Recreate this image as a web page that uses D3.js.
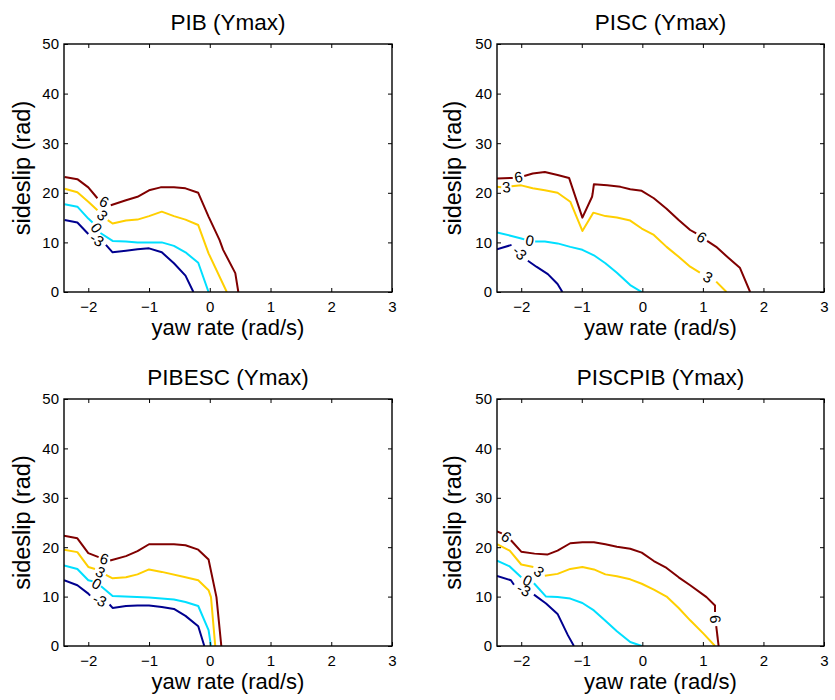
<!DOCTYPE html>
<html><head><meta charset="utf-8">
<script src="https://cdn.jsdelivr.net/npm/d3@7"></script>
<style>body{margin:0;background:#fff}text{font-family:"Liberation Sans",Arial,sans-serif;fill:#000}</style>
</head><body>
<svg id="c" width="835" height="700"></svg>
<script>
const titles = ["PIB (Ymax)", "PISC (Ymax)", "PIBESC (Ymax)", "PISCPIB (Ymax)"];
const xLabel = "yaw rate (rad/s)";
const yLabel = "sideslip (rad)";
const xTicks = [-2, -1, 0, 1, 2, 3];
const yTicks = [0, 10, 20, 30, 40, 50];
const levels = [-3, 0, 3, 6];
const levelColors = ["#00008f", "#00dfff", "#ffcf00", "#800000"];

// Each contour: list of segments (broken where the level label sits)
const pib_m3 = [
  [[-2.39,14.5],[-2.18,14.0],[-2.0,11.7]],
  [[-1.71,9.5],[-1.60,8.0],[-1.38,8.3],[-1.19,8.6],[-1.0,8.8],[-0.79,8.0],[-0.59,5.8],[-0.40,3.3],[-0.27,0]]
];
const pib_0 = [
  [[-2.39,17.7],[-2.18,17.2],[-2.0,14.8],[-1.93,14.0]],
  [[-1.80,11.9],[-1.60,10.3],[-1.38,10.2],[-1.19,10.0],[-0.79,10.0],[-0.59,9.3],[-0.40,8.0],[-0.19,5.9],[-0.02,0]]
];
const pib_3 = [
  [[-2.39,20.8],[-2.18,20.1],[-2.0,18.2],[-1.85,16.5]],
  [[-1.68,14.5],[-1.60,13.8],[-1.38,14.4],[-1.19,14.6],[-1.0,15.3],[-0.79,16.2],[-0.59,15.3],[-0.40,14.6],[-0.19,13.5],[-0.02,7.8],[0.28,0]]
];
const pib_6 = [
  [[-2.39,23.2],[-2.18,22.75],[-2.0,21.1],[-1.85,18.9]],
  [[-1.63,17.5],[-1.38,18.5],[-1.19,19.2],[-1.0,20.5],[-0.81,21.1],[-0.59,21.1],[-0.40,20.9],[-0.19,20.0],[-0.02,15.2],[0.16,10.5],[0.22,8.5],[0.42,3.8],[0.47,0]]
];

const pisc_m3 = [
  [[-2.40,8.6],[-2.16,9.5]],
  [[-1.89,6.3],[-1.75,5.1],[-1.56,3.6],[-1.40,1.6],[-1.32,0]]
];
const pisc_0 = [
  [[-2.40,12.0],[-2.16,11.3],[-2.0,10.8],[-1.95,10.6]],
  [[-1.77,10.2],[-1.61,10.2],[-1.40,9.8],[-1.19,9.1],[-0.99,8.5],[-0.80,7.4],[-0.61,5.8],[-0.42,3.9],[-0.20,1.4],[-0.01,0]]
];
const pisc_3 = [
  [[-2.40,21.2],[-2.33,21.1]],
  [[-2.16,21.3],[-2.0,21.5],[-1.81,20.9],[-1.61,20.5],[-1.40,20.0],[-1.19,18.2],[-0.99,12.3],[-0.81,16.0],[-0.61,15.3],[-0.42,15.0],[-0.20,14.4],[-0.01,12.8],[0.19,11.5],[0.40,9.1],[0.60,7.1],[0.79,5.1],[0.95,3.9]],
  [[1.22,2.1],[1.39,0]]
];
const pisc_6 = [
  [[-2.40,22.9],[-2.14,23.0]],
  [[-1.95,23.4],[-1.81,23.9],[-1.61,24.2],[-1.40,23.6],[-1.21,23.0],[-0.99,15.0],[-0.83,19.2],[-0.82,19.9],[-0.80,21.7],[-0.58,21.5],[-0.36,21.2],[-0.20,20.7],[-0.01,20.4],[0.19,18.9],[0.40,16.8],[0.60,14.5],[0.79,12.5],[0.89,11.8]],
  [[1.07,10.3],[1.22,9.1],[1.42,6.9],[1.61,4.9],[1.78,0]]
];

const pibesc_m3 = [
  [[-2.40,13.3],[-2.18,12.3],[-2.0,10.6],[-1.97,10.2]],
  [[-1.65,8.4],[-1.60,7.7],[-1.38,8.1],[-1.19,8.2],[-1.0,8.2],[-0.79,7.9],[-0.59,7.5],[-0.40,6.1],[-0.19,4.0],[-0.09,0]]
];
const pibesc_0 = [
  [[-2.40,16.3],[-2.18,15.6],[-2.0,13.3],[-1.93,13.1]],
  [[-1.79,12.1],[-1.60,10.1],[-1.0,9.8],[-0.59,9.4],[-0.40,8.9],[-0.19,8.1],[-0.02,3.2],[0.02,0]]
];
const pibesc_3 = [
  [[-2.40,19.5],[-2.18,19.0],[-2.0,16.0],[-1.89,15.6]],
  [[-1.71,14.4],[-1.60,13.7],[-1.38,13.9],[-1.19,14.5],[-1.0,15.5],[-0.79,15.0],[-0.40,13.9],[-0.19,13.3],[-0.02,11.3],[0.02,9.9],[0.09,0]]
];
const pibesc_6 = [
  [[-2.40,22.3],[-2.18,21.8],[-2.0,18.8],[-1.83,18.0]],
  [[-1.64,17.3],[-1.38,18.2],[-1.19,19.2],[-1.0,20.6],[-0.59,20.6],[-0.40,20.4],[-0.19,19.5],[-0.02,17.5],[0.11,9.9],[0.19,0]]
];

const piscpib_m3 = [
  [[-2.40,14.2],[-2.17,13.3],[-2.12,12.4]],
  [[-1.79,10.4],[-1.59,8.6],[-1.40,6.5],[-1.23,2.2],[-1.13,0]]
];
const piscpib_0 = [
  [[-2.40,17.3],[-2.19,16.1],[-2.0,13.9]],
  [[-1.79,12.7],[-1.59,10.0],[-1.40,9.9],[-1.19,9.6],[-0.99,8.7],[-0.80,7.2],[-0.61,5.1],[-0.42,3.0],[-0.20,0.8],[-0.01,0]]
];
const piscpib_3 = [
  [[-2.40,20.6],[-2.19,19.3],[-2.0,16.5],[-1.80,16.0]],
  [[-1.61,14.2],[-1.40,14.6],[-1.19,15.6],[-0.99,16.0],[-0.80,15.5],[-0.61,14.5],[-0.42,14.1],[-0.20,13.5],[-0.01,12.6],[0.19,11.4],[0.40,10.0],[0.60,7.7],[0.79,5.2],[1.01,2.5],[1.20,0]]
];
const piscpib_6 = [
  [[-2.40,23.2],[-2.32,22.8]],
  [[-2.17,21.4],[-2.0,19.1],[-1.78,18.7],[-1.57,18.5],[-1.40,19.3],[-1.19,20.8],[-0.99,21.0],[-0.80,21.0],[-0.61,20.6],[-0.42,20.1],[-0.20,19.7],[-0.01,18.9],[0.19,17.2],[0.40,15.8],[0.60,13.9],[0.79,12.3],[1.06,9.9],[1.20,8.2],[1.20,6.9]],
  [[1.22,4.0],[1.26,0]]
];

const panelContours = [
  [pib_m3, pib_0, pib_3, pib_6],
  [pisc_m3, pisc_0, pisc_3, pisc_6],
  [pibesc_m3, pibesc_0, pibesc_3, pibesc_6],
  [piscpib_m3, piscpib_0, piscpib_3, piscpib_6]
];

const xDomain = [-2.4, 3];
const yDomain = [0, 50];

const svg = d3.select("#c");
const boxes = [
  {x: 64, y: 44, w: 328, h: 248},
  {x: 497, y: 44, w: 327, h: 248},
  {x: 64, y: 399, w: 328, h: 247},
  {x: 497, y: 399, w: 327, h: 247}
];

boxes.forEach((b, i) => {
  const g = svg.append("g").attr("transform", `translate(${b.x},${b.y})`);
  const x = d3.scaleLinear().domain(xDomain).range([0, b.w]);
  const y = d3.scaleLinear().domain(yDomain).range([b.h, 0]);

  g.append("clipPath").attr("id", "clip" + i).append("rect")
    .attr("width", b.w).attr("height", b.h);

  const line = d3.line().x(d => x(d[0])).y(d => y(d[1]));
  const cg = g.append("g").attr("clip-path", `url(#clip${i})`);
  panelContours[i].forEach((segs, li) => {
    segs.forEach(seg => {
      cg.append("path").attr("d", line(seg)).attr("fill", "none")
        .attr("stroke", levelColors[li]).attr("stroke-width", 2)
        .attr("stroke-linejoin", "round");
    });
    for (let k = 0; k < segs.length - 1; k++) {
      const a = segs[k][segs[k].length - 1], c = segs[k + 1][0];
      const ax = x(a[0]), ay = y(a[1]), cx = x(c[0]), cy = y(c[1]);
      let ang = Math.atan2(cy - ay, cx - ax) * 180 / Math.PI;
      if (ang > 90) ang -= 180;
      if (ang < -90) ang += 180;
      const mx = (ax + cx) / 2, my = (ay + cy) / 2;
      g.append("text").attr("transform", `translate(${mx},${my}) rotate(${ang})`)
        .attr("text-anchor", "middle").attr("dy", "0.36em")
        .attr("font-size", 15).text(String(levels[li]));
    }
  });

  const xb = d3.axisBottom(x).tickValues(xTicks).tickSize(-4).tickPadding(9).tickFormat(d3.format("d"));
  const xt = d3.axisTop(x).tickValues(xTicks).tickSize(-4).tickFormat("");
  const yl = d3.axisLeft(y).tickValues(yTicks).tickSize(-4).tickPadding(5).tickFormat(d3.format("d"));
  const yr = d3.axisRight(y).tickValues(yTicks).tickSize(-4).tickFormat("");
  [
    g.append("g").attr("transform", `translate(0,${b.h})`).call(xb),
    g.append("g").call(xt),
    g.append("g").call(yl),
    g.append("g").attr("transform", `translate(${b.w},0)`).call(yr)
  ].forEach(a => {
    a.select(".domain").remove();
    a.selectAll("line").attr("stroke", "#000");
    a.selectAll("text").attr("font-size", 15).style("font-family", '"Liberation Sans",Arial,sans-serif').attr("fill", "#000");
  });
  g.append("rect").attr("width", b.w).attr("height", b.h)
    .attr("fill", "none").attr("stroke", "#000").attr("stroke-width", 1.4);

  g.append("text").attr("x", b.w / 2).attr("y", -14).attr("text-anchor", "middle")
    .attr("font-size", 22.5).text(titles[i]);
  g.append("text").attr("x", b.w / 2).attr("y", b.h + 43).attr("text-anchor", "middle")
    .attr("font-size", 22).text(xLabel);
  g.append("text").attr("transform", `translate(${i % 2 ? -36 : -34},${b.h / 2}) rotate(-90)`)
    .attr("text-anchor", "middle").attr("font-size", 23.5).text(yLabel);
});
</script>
</body></html>
